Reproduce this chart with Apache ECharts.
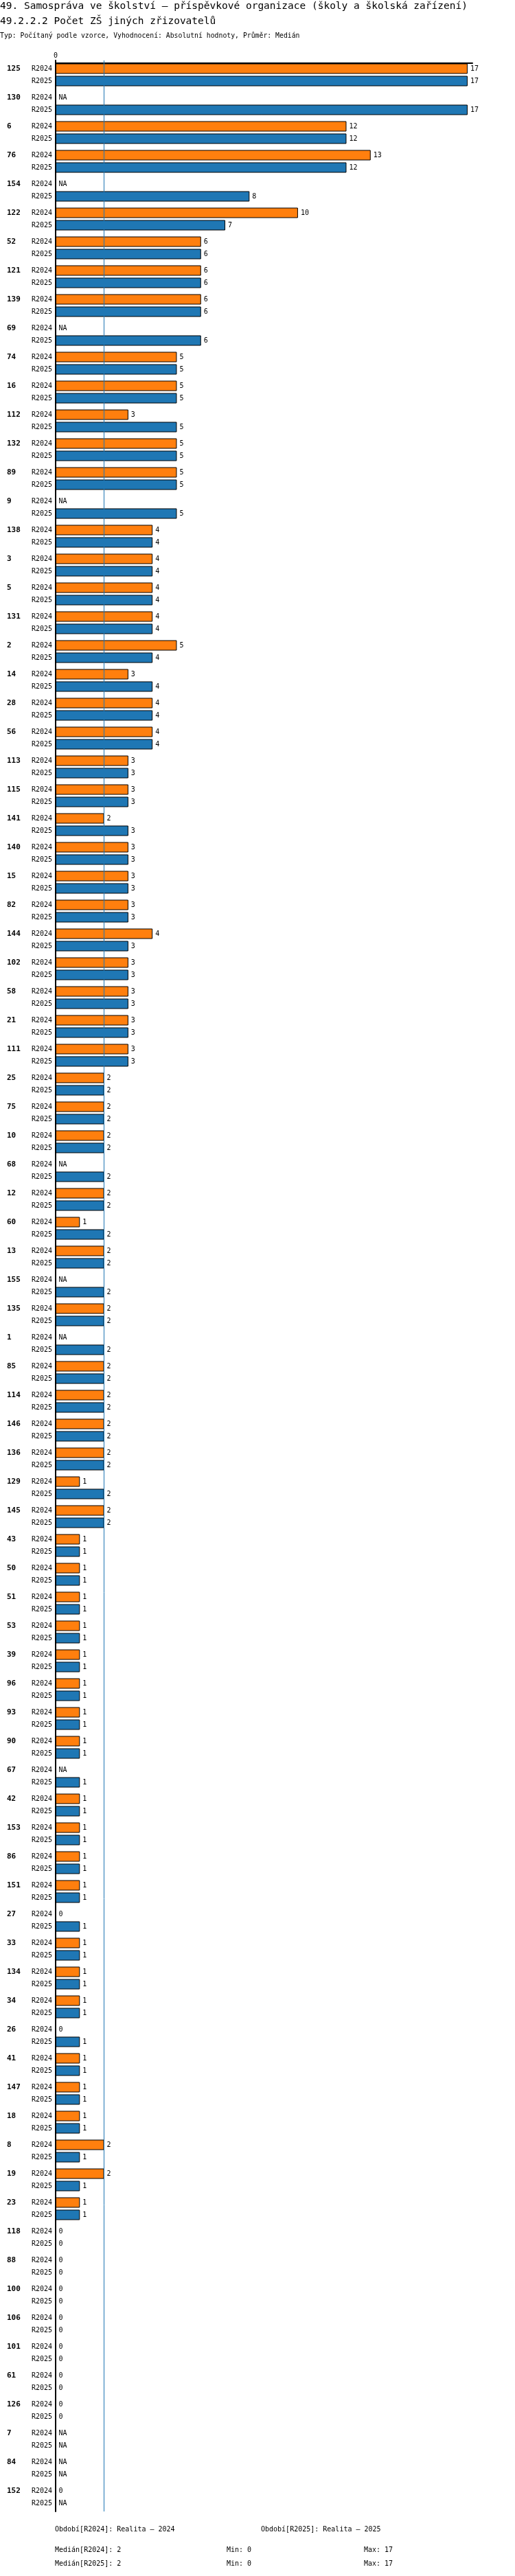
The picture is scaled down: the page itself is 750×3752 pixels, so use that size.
<!DOCTYPE html>
<html>
<head>
<meta charset="utf-8">
<script src="https://cdn.jsdelivr.net/npm/echarts@6/dist/echarts.min.js"></script>
<style>
  html, body { margin: 0; padding: 0; background: #fff; }
  #chart { width: 750px; height: 3752px; }
</style>
</head>
<body>
<div id="chart"></div>
<script>
// kategorie (zřizovatelé) v pořadí shora dolů
const categories = ['125','130','6','76','154','122','52','121','139','69',
  '74','16','112','132','89','9','138','3','5','131',
  '2','14','28','56','113','115','141','140','15','82',
  '144','102','58','21','111','25','75','10','68','12',
  '60','13','155','135','1','85','114','146','136','129',
  '145','43','50','51','53','39','96','93','90','67',
  '42','153','86','151','27','33','134','34','26','41',
  '147','18','8','19','23','118','88','100','106','101',
  '61','126','7','84','152'];

// null = NA
const r2024 = [17,null,12,13,null,10,6,6,6,null,
  5,5,3,5,5,null,4,4,4,4,
  5,3,4,4,3,3,2,3,3,3,
  4,3,3,3,3,2,2,2,null,2,
  1,2,null,2,null,2,2,2,2,1,
  2,1,1,1,1,1,1,1,1,null,
  1,1,1,1,0,1,1,1,0,1,
  1,1,2,2,1,0,0,0,0,0,
  0,0,null,null,0];

const r2025 = [17,17,12,12,8,7,6,6,6,6,
  5,5,5,5,5,5,4,4,4,4,
  4,4,4,4,3,3,3,3,3,3,
  3,3,3,3,3,2,2,2,2,2,
  2,2,2,2,2,2,2,2,2,2,
  2,1,1,1,1,1,1,1,1,1,
  1,1,1,1,1,1,1,1,1,1,
  1,1,1,1,1,0,0,0,0,0,
  0,0,null,null,null];

const periods = ['R2024', 'R2025'];
const median = 2;
const footerLines = [
  ['Období[R2024]: Realita – 2024', 'Období[R2025]: Realita – 2025'],
  ['Medián[R2024]: 2', 'Min: 0', 'Max: 17'],
  ['Medián[R2025]: 2', 'Min: 0', 'Max: 17']
];

const FONT = '"DejaVu Sans Mono", monospace';

// NA -> nulová hodnota s popiskem "NA"
const toBarData = (arr) => arr.map(v => v === null
  ? { value: 0, label: { formatter: 'NA' } }
  : v);

const barSeries = (name, arr, color) => ({
  name: name,
  type: 'bar',
  data: toBarData(arr),
  barWidth: 15,
  barGap: '20%',
  z: 3,
  itemStyle: { color: color, borderColor: '#000', borderWidth: 1 },
  label: {
    show: true,
    position: 'right',
    distance: 4,
    color: '#000',
    fontFamily: FONT,
    fontSize: 10
  }
});

const text = (x, y, str, size, weight) => ({
  type: 'text',
  x: x,
  y: y,
  style: {
    text: str,
    font: (weight || 'normal') + ' ' + size + 'px ' + FONT,
    fill: '#000',
    verticalAlign: 'middle'
  }
});

let dom = echarts.init(document.getElementById('chart'), null, { renderer: 'canvas' });

dom.setOption({
  animation: false,
  backgroundColor: '#fff',
  grid: { left: 81, right: 62, top: 88, height: 3570 },
  xAxis: {
    type: 'value',
    position: 'top',
    offset: -4,
    min: 0,
    max: 17.2,
    axisLine: { show: true, lineStyle: { color: '#000', width: 2 } },
    axisTick: { show: false },
    splitLine: { show: false },
    axisLabel: {
      margin: 6,
      color: '#000',
      fontFamily: FONT,
      fontSize: 10,
      formatter: v => (v === 0 ? '0' : '')
    }
  },
  yAxis: {
    type: 'category',
    inverse: true,
    data: categories,
    axisLine: { show: true, lineStyle: { color: '#000', width: 2 } },
    axisTick: { show: false },
    axisLabel: {
      margin: 5,
      interval: 0,
      formatter: v => '{c|' + v + '}{r|' + periods[0] + '}\n{c| }{r|' + periods[1] + '}',
      rich: {
        c: { width: 36, align: 'left', fontFamily: FONT, fontSize: 11, fontWeight: 'bold', color: '#000', lineHeight: 18 },
        r: { width: 30, align: 'right', fontFamily: FONT, fontSize: 10, color: '#000', lineHeight: 18 }
      }
    }
  },
  series: [
    {
      name: 'median',
      type: 'line',
      data: [],
      z: 1,
      markLine: {
        silent: true,
        symbol: 'none',
        label: { show: false },
        lineStyle: { color: '#1f77b4', width: 1, type: 'solid' },
        data: [{ xAxis: median }]
      }
    },
    barSeries(periods[0], r2024, '#ff7f0e'),
    barSeries(periods[1], r2025, '#1f77b4')
  ],
  graphic: [
    text(0, 9, '49. Samospráva ve školství – příspěvkové organizace (školy a školská zařízení)', 14.5),
    text(0, 31, '49.2.2.2 Počet ZŠ jiných zřizovatelů', 14.5),
    text(0, 52, 'Typ: Počítaný podle vzorce, Vyhodnocení: Absolutní hodnoty, Průměr: Medián', 9.8),
    text(80, 3684, footerLines[0][0], 10),
    text(380, 3684, footerLines[0][1], 10),
    text(80, 3714, footerLines[1][0], 10),
    text(330, 3714, footerLines[1][1], 10),
    text(530, 3714, footerLines[1][2], 10),
    text(80, 3734, footerLines[2][0], 10),
    text(330, 3734, footerLines[2][1], 10),
    text(530, 3734, footerLines[2][2], 10)
  ]
});
</script>
</body>
</html>
